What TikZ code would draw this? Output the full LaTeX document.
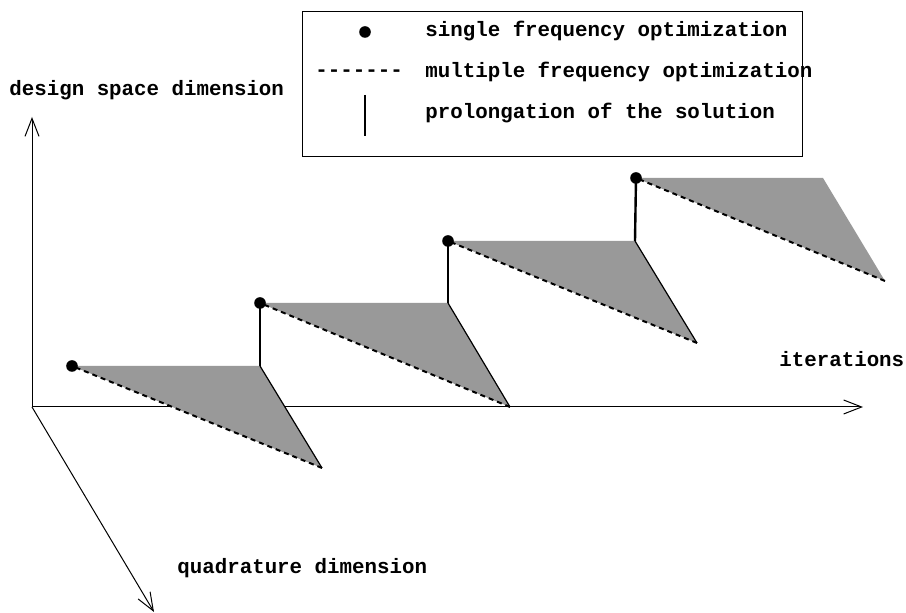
\documentclass[tikz,border=0pt]{standalone}
\usepackage{fontspec}
\setmonofont{Liberation Mono}
\usepackage{tikz}
\usetikzlibrary{arrows.meta}

\begin{document}
\begin{tikzpicture}[
    x=0.5pt, y=-0.5pt,
    lbl/.style={anchor=base west, inner sep=0pt,
                font=\ttfamily\bfseries\fontsize{10.4pt}{12pt}\selectfont},
    axisarr/.style={-{Straight Barb[length=9pt,width=7pt]}, line width=0.5pt},
    sheet/.style={fill=black!40},
    multi/.style={line width=1pt, dash pattern=on 2.5pt off 2pt},
    prolong/.style={line width=1.2pt},
    drop/.style={line width=0.6pt},
    solpt/.style={circle, fill=black, inner sep=0pt, minimum size=5.8pt},
]
\useasboundingbox (0,0) rectangle (906,613);

% axes
\coordinate (o) at (32,407);
\coordinate (yend) at (32,117);
\coordinate (xend) at (863,407);
\coordinate (zend) at (154,612);
\draw[axisarr] (o) -- (yend);
\draw[axisarr] (o) -- (xend);
\draw[axisarr] (o) -- (zend);

\node[lbl] (ylab) at (9,96) {design space dimension};
\node[lbl] (xlab) at (779,367) {iterations};
\node[lbl] (zlab) at (177,574) {quadrature dimension};

% optimization steps
\coordinate (p1) at (72,366);  \coordinate (q1) at (260,366); \coordinate (r1) at (322,468);
\coordinate (p2) at (260,303); \coordinate (q2) at (448,303); \coordinate (r2) at (510,407);
\coordinate (p3) at (448,241); \coordinate (q3) at (635,241); \coordinate (r3) at (697,343);
\coordinate (p4) at (636,178); \coordinate (q4) at (823,178); \coordinate (r4) at (885,281);

\fill[sheet] (p1) -- (q1) -- (r1) -- cycle;
\fill[sheet] (p2) -- (q2) -- (r2) -- cycle;
\fill[sheet] (p3) -- (q3) -- (r3) -- cycle;
\fill[sheet] (p4) -- (q4) -- (r4) -- cycle;

\draw[multi] (r1) -- (p1);
\draw[multi] (r2) -- (p2);
\draw[multi] (r3) -- (p3);
\draw[multi] (r4) -- (p4);

\draw[drop] (q1) -- (r1);
\draw[drop] (q2) -- (r2);
\draw[drop] (q3) -- (r3);

\draw[prolong] (q1) -- (p2);
\draw[prolong] (q2) -- (p3);
\draw[prolong] (q3) -- (p4);

\node[solpt] (s1) at (p1) {};
\node[solpt] (s2) at (p2) {};
\node[solpt] (s3) at (p3) {};
\node[solpt] (s4) at (p4) {};

% legend
\coordinate (boxtl) at (302,12);
\coordinate (boxbr) at (802,157);
\draw[line width=0.5pt] (boxtl) rectangle (boxbr);

\node[solpt] (keydot) at (365,32) {};
\node[lbl] (keydash) at (315,77) {-{}-{}-{}-{}-{}-{}-};
\coordinate (keytop) at (365,95);
\coordinate (keybot) at (365,136);
\draw[prolong] (keytop) -- (keybot);

\node[lbl] (key1) at (425,37) {single frequency optimization};
\node[lbl] (key2) at (425,78) {multiple frequency optimization};
\node[lbl] (key3) at (425,119) {prolongation of the solution};

\end{tikzpicture}
\end{document}
